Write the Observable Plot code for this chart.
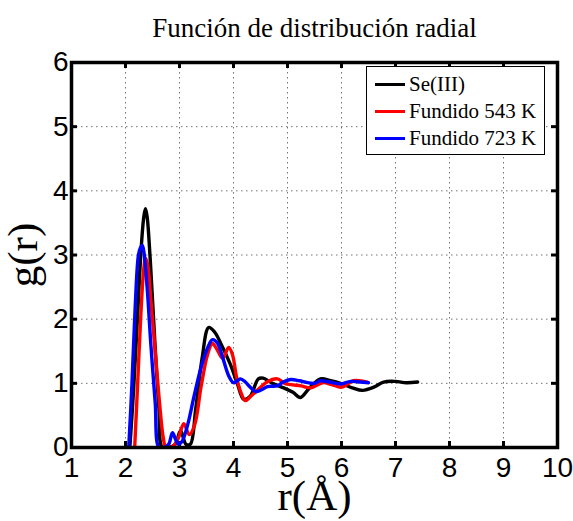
<!DOCTYPE html>
<html>
<head>
<meta charset="utf-8">
<script src="https://cdn.jsdelivr.net/npm/d3@7"></script>
<script src="https://cdn.jsdelivr.net/npm/@observablehq/plot@0.6"></script>
<style>
  html, body { margin: 0; padding: 0; background: #fff; }
  #wrap { position: relative; width: 573px; height: 521px; }
  #legend { position: absolute; left: 366px; top: 66px; width: 177px; height: 87px;
    border: 1.5px solid #000; background: #fff; font-family: "Liberation Serif", serif; font-size: 21px; }
  .row { position: absolute; left: 8px; height: 24px; display: flex; align-items: center; }
  .sw { width: 30px; height: 0; border-top: 3px solid; margin-right: 4px; }
</style>
</head>
<body>
<div id="wrap"><div id="legend"></div></div>
<script>
const titleText = "Función de distribución radial";
const xLabel = "r(Å)";
const yLabel = "g(r)";
const seriesNames = ["Se(III)", "Fundido 543 K", "Fundido 723 K"];
const seriesColors = ["#000000", "#ff0000", "#0000ff"];
const xTicks = [1, 2, 3, 4, 5, 6, 7, 8, 9, 10];
const yTicks = [0, 1, 2, 3, 4, 5, 6];

const rSe = [2.08, 2.15, 2.22, 2.29, 2.34, 2.37, 2.40, 2.46, 2.54, 2.62, 2.68, 2.80, 2.92, 3.02, 3.12, 3.20, 3.30, 3.42, 3.54, 3.65, 3.76, 3.94, 4.07, 4.19, 4.31, 4.46, 4.55, 4.72, 4.93, 5.10, 5.24, 5.40, 5.61, 5.80, 5.98, 6.20, 6.39, 6.60, 6.78, 7.00, 7.20, 7.41];
const gSe = [0, 0.9, 2.0, 3.1, 3.6, 3.72, 3.6, 2.9, 1.7, 0.6, 0, 0, 0.05, 0.26, 0.05, 0.05, 0.6, 1.4, 1.87, 1.8, 1.63, 1.3, 1.0, 0.75, 0.8, 1.07, 1.08, 1.0, 0.93, 0.86, 0.78, 0.92, 1.07, 1.04, 1.0, 0.93, 0.89, 0.94, 1.02, 1.03, 1.01, 1.02];

const r543 = [2.17, 2.22, 2.28, 2.33, 2.37, 2.41, 2.47, 2.55, 2.63, 2.70, 2.75, 2.88, 2.98, 3.08, 3.18, 3.28, 3.40, 3.52, 3.61, 3.70, 3.80, 3.91, 3.98, 4.06, 4.14, 4.22, 4.32, 4.44, 4.62, 4.81, 4.95, 5.06, 5.25, 5.43, 5.65, 5.82, 6.00, 6.22, 6.48];
const g543 = [0, 0.9, 2.0, 2.7, 2.95, 2.85, 2.3, 1.5, 0.7, 0.15, 0, 0.02, 0.15, 0.37, 0.2, 0.35, 0.95, 1.45, 1.62, 1.52, 1.39, 1.56, 1.45, 1.08, 0.85, 0.73, 0.8, 0.89, 1.02, 1.07, 1.0, 0.98, 0.96, 0.93, 1.01, 0.98, 0.94, 1.04, 1.02];

const r723 = [2.06, 2.12, 2.18, 2.24, 2.28, 2.31, 2.34, 2.40, 2.47, 2.55, 2.62, 2.72, 2.80, 2.87, 2.93, 2.98, 3.05, 3.15, 3.27, 3.40, 3.52, 3.61, 3.70, 3.80, 3.91, 4.00, 4.07, 4.13, 4.22, 4.31, 4.41, 4.52, 4.63, 4.81, 4.92, 5.06, 5.22, 5.37, 5.50, 5.61, 5.78, 5.98, 6.17, 6.35, 6.50];
const g723 = [0, 1.0, 2.2, 3.0, 3.12, 3.15, 3.05, 2.5, 1.6, 0.7, 0, 0, 0.05, 0.23, 0.12, 0.05, 0.1, 0.35, 0.8, 1.25, 1.55, 1.68, 1.63, 1.4, 1.12, 1.01, 1.04, 1.07, 1.02, 0.94, 0.87, 0.9, 0.95, 0.96, 1.02, 1.06, 1.04, 1.01, 1.0, 1.04, 1.02, 0.99, 1.03, 1.02, 1.01];

const series = [[rSe, gSe], [r543, g543], [r723, g723]].map(([r, g], i) =>
  r.map((x, j) => ({x, y: g[j], name: seriesNames[i]})));

const W = 573, H = 521, mL = 71, mR = 16, mT = 62, mB = 74;
const fw = W - mL - mR, fh = H - mT - mB, tl = 6;
const gridStyle = {stroke: "#000", strokeOpacity: 0.55, strokeWidth: 1, strokeDasharray: "1.5,3.5"};

const chart = Plot.plot({
  width: W, height: H,
  marginLeft: mL, marginRight: mR, marginTop: mT, marginBottom: mB,
  style: {fontFamily: "Liberation Sans, Arial, sans-serif", fontSize: "28px", color: "#000", background: "#fff"},
  x: {domain: [1, 10], ticks: xTicks, tickSize: 0, tickPadding: 10, label: null, tickFormat: d => String(d)},
  y: {domain: [0, 6], ticks: yTicks, tickSize: 0, tickPadding: 3, label: null, tickFormat: d => String(d)},
  marks: [
    Plot.ruleX(xTicks.slice(1, -1), {x: d => d, ...gridStyle}),
    Plot.ruleY(yTicks.slice(1, -1), {y: d => d, ...gridStyle}),
    Plot.tickX(xTicks, {x: d => d, stroke: "#000", strokeWidth: 3, insetTop: fh - tl}),
    Plot.tickX(xTicks, {x: d => d, stroke: "#000", strokeWidth: 3, insetBottom: fh - tl}),
    Plot.tickY(yTicks, {y: d => d, stroke: "#000", strokeWidth: 3, insetRight: fw - tl}),
    Plot.tickY(yTicks, {y: d => d, stroke: "#000", strokeWidth: 3, insetLeft: fw - tl}),
    ...series.map((d, i) => Plot.line(d, {x: "x", y: "y", stroke: seriesColors[i], strokeWidth: 3.4, curve: "catmull-rom", clip: true})),
    Plot.frame({stroke: "#000", strokeWidth: 3.5}),
    Plot.text([titleText], {frameAnchor: "top", lineAnchor: "middle", dy: -34, text: d => d, fontFamily: "Liberation Serif, serif", fontSize: 27, fill: "#000"}),
    Plot.text([xLabel], {frameAnchor: "bottom", lineAnchor: "bottom", dy: 62, text: d => d, fontFamily: "Liberation Serif, serif", fontSize: 43, fill: "#000"}),
    Plot.text([yLabel], {frameAnchor: "left", textAnchor: "middle", lineAnchor: "middle", dx: -48, dy: 0, rotate: -90, text: d => d, fontFamily: "Liberation Serif, serif", fontSize: 43, fill: "#000"})
  ]
});
document.getElementById("wrap").prepend(chart);

const legend = document.getElementById("legend");
seriesNames.forEach((n, i) => {
  const row = document.createElement("div");
  row.className = "row";
  row.style.top = (5 + i * 27) + "px";
  const sw = document.createElement("span");
  sw.className = "sw";
  sw.style.borderTopColor = seriesColors[i];
  const t = document.createElement("span");
  t.textContent = n;
  row.append(sw, t);
  legend.append(row);
});
</script>
</body>
</html>
